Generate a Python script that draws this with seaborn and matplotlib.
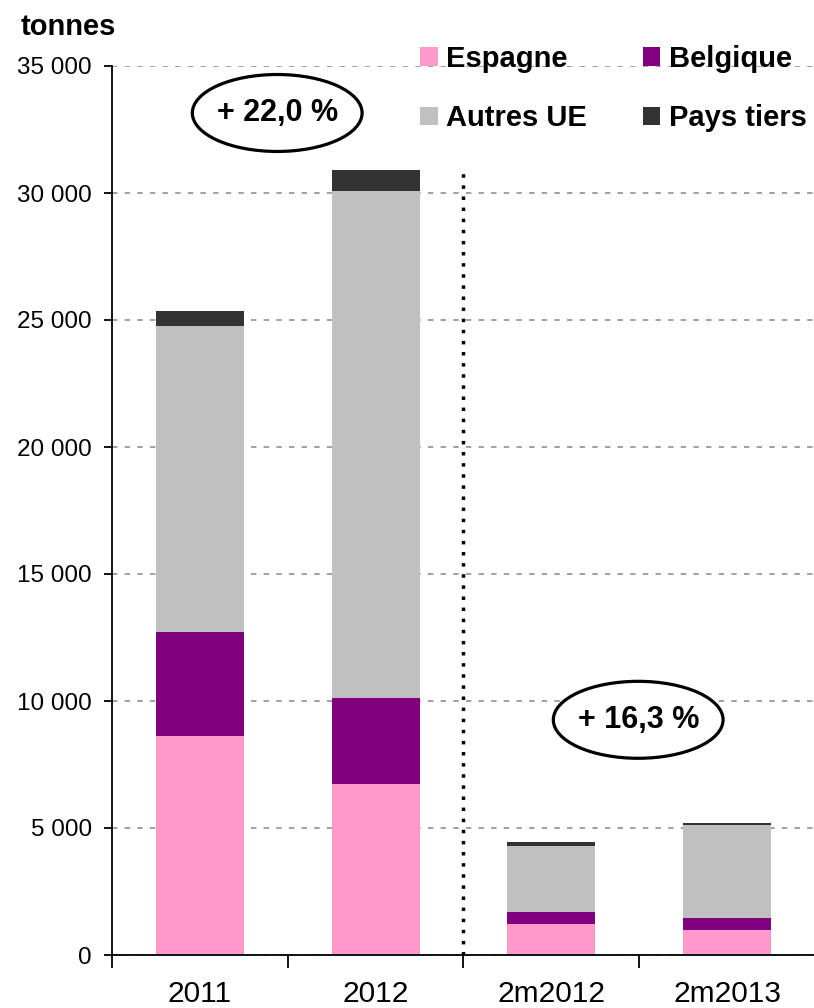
import pandas as pd
import seaborn as sns
import matplotlib.pyplot as plt
from matplotlib.patches import Patch, Ellipse
from matplotlib.ticker import FuncFormatter, FixedLocator

# Data (tonnes)
periodes = ["2011", "2012", "2m2012", "2m2013"]
espagne = [8630, 6740, 1220, 990]
belgique = [4090, 3390, 470, 470]
autres_ue = [12060, 19950, 2610, 3640]
pays_tiers = [590, 820, 150, 100]

series_names = ["Espagne", "Belgique", "Autres UE", "Pays tiers"]
colors = ["#FF99CC", "#800080", "#C0C0C0", "#333333"]

# cumulative sums for stacked bars
df = pd.DataFrame({"periode": periodes, "Espagne": espagne, "Belgique": belgique,
                   "Autres UE": autres_ue, "Pays tiers": pays_tiers})
cum = df[series_names].cumsum(axis=1)
cum["periode"] = df["periode"]

sns.set_style("white")
plt.rcParams["font.family"] = ["Liberation Sans", "DejaVu Sans"]
plt.rcParams.update({"text.color": "black", "xtick.color": "black", "ytick.color": "black"})

fig = plt.figure(figsize=(8.14, 10.08), dpi=100)
ax = fig.add_axes([112 / 814, 53 / 1008, 703 / 814, 889 / 1008])

# draw from the top layer down so each lower layer covers the one above
for name, col in reversed(list(zip(series_names, colors))):
    sns.barplot(data=cum, x="periode", y=name, color=col, saturation=1,
                width=0.5, ax=ax, zorder=3, edgecolor="none", linewidth=0)

ax.set_xlim(-0.5, 3.5)
ax.set_ylim(0, 35000)
ax.set_xlabel("")
ax.set_ylabel("")

# y axis
ax.yaxis.set_major_locator(FixedLocator(range(0, 35001, 5000)))
ax.yaxis.set_major_formatter(FuncFormatter(lambda v, p: f"{int(v):,}".replace(",", " ")))
ax.tick_params(axis="y", direction="out", length=6, width=1.3, color="black",
               labelsize=17.5, pad=8.5, left=True, labelcolor="black")
ax.grid(axis="y", color="#999999", linestyle=(0, (3, 4)), linewidth=1.3, zorder=0)
ax.grid(axis="x", visible=False)

# x axis: ticks between categories
ax.set_xticks(range(4))
ax.set_xticklabels(periodes)
ax.tick_params(axis="x", which="major", length=0, labelsize=21.5, pad=18, labelcolor="black")
ax.xaxis.set_minor_locator(FixedLocator([-0.5, 0.5, 1.5, 2.5, 3.5]))
ax.tick_params(axis="x", which="minor", direction="out", length=9, width=1.3,
               color="black", bottom=True)

for side in ["top", "right"]:
    ax.spines[side].set_visible(False)
for side in ["left", "bottom"]:
    ax.spines[side].set_color("black")
    ax.spines[side].set_linewidth(1.3)
    ax.spines[side].set_zorder(5)

# separator between annual and 2-month figures
ax.plot([1.5, 1.5], [0, 31000], color="black", linestyle=(0, (1, 2.2)),
        linewidth=2.5, zorder=4)

# growth annotations in ellipses
for (xc, yc, txt) in [(0.440, 33150, "+ 22,0 %"), (2.494, 9260, "+ 16,3 %")]:
    ax.add_patch(Ellipse((xc, yc), 0.966, 3030, facecolor="white",
                         edgecolor="black", linewidth=2.3, zorder=6, clip_on=False))
    ax.text(xc, yc, txt, ha="center", va="center", fontsize=22,
            fontweight="bold", color="black", zorder=7)

# legend
handles = [Patch(facecolor=c, edgecolor="none", label=n) for n, c in zip(series_names, colors)]
handles = [handles[0], handles[2], handles[1], handles[3]]
leg = fig.legend(handles=handles, ncol=2, loc="upper left", bbox_to_anchor=(420 / 814, 1 - 45 / 1008),
                 frameon=False, prop={"weight": "bold", "size": 21},
                 handlelength=0.6, handleheight=0.6, handletextpad=0.3,
                 columnspacing=1.9, labelspacing=1.08, borderaxespad=0, borderpad=0)
for t in leg.get_texts():
    t.set_color("black")

fig.text(21 / 814, 1 - 35 / 1008, "tonnes", fontsize=21, fontweight="bold",
         va="baseline", color="black")

fig.savefig("out.png", dpi=100)
